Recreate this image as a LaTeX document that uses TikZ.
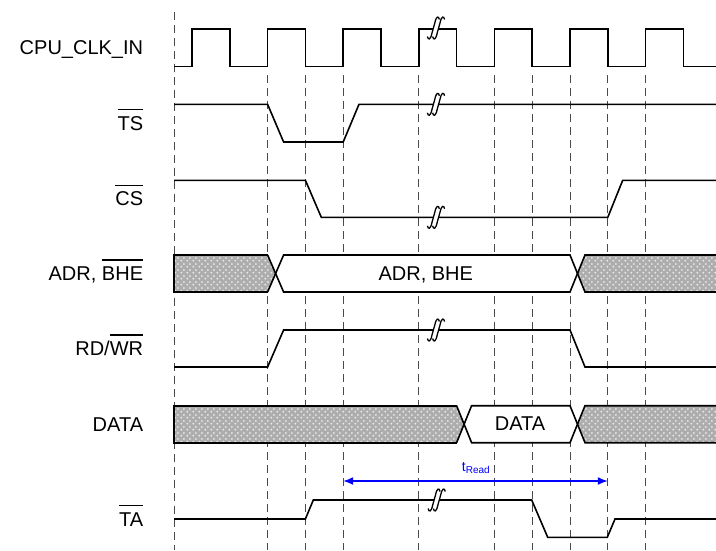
\documentclass[tikz,border=0pt]{standalone}
\usepackage{fontspec}
\setmainfont{Liberation Sans}
\usetikzlibrary{arrows.meta,patterns}
\pgfdeclarepatternformonly{halftone}{\pgfqpoint{0pt}{0pt}}{\pgfqpoint{6pt}{6pt}}{\pgfqpoint{6pt}{6pt}}{%
  \pgfpathcircle{\pgfqpoint{1.5pt}{1.5pt}}{1.2pt}%
  \pgfpathcircle{\pgfqpoint{4.5pt}{4.5pt}}{1.2pt}%
  \pgfusepath{fill}}
\definecolor{shadegray}{HTML}{ADADAD}
\definecolor{dotgray}{HTML}{E8E8E8}
\definecolor{gridgray}{HTML}{4A4A4A}
\newcommand\ovl[1]{{\setbox0\hbox{#1}\rlap{\rule[\dimexpr\ht0+6.3pt\relax]{\wd0}{1.1pt}}\box0}}
\newcommand\brkpiece[2]{%
  \draw[brkline] (#1-6,#2+8.5) .. controls (#1-5.2,#2+12.5) and (#1-2.8,#2+12) .. (#1-1.4,#2+5) -- (#1+1.4,#2-5) .. controls (#1+2.8,#2-12) and (#1+5.2,#2-12.5) .. (#1+6,#2-8.5);
}
\newcommand\brk[2]{%
  \fill[white] (#1-2.6,#2-3) rectangle (#1+2.6,#2+3);
  \brkpiece{#1-2.6}{#2}
  \brkpiece{#1+2.6}{#2}
}
\tikzset{
  sig/.style={line width=1.6pt, line join=miter, black},
  busline/.style={line width=1.6pt, black},
  brkline/.style={line width=1.3pt, black},
  gridline/.style={draw=gridgray, line width=0.8pt, dash pattern=on 8pt off 5pt},
  lbl/.style={anchor=base east, inner sep=0pt, font=\fontsize{20}{24}\selectfont},
  bustxt/.style={anchor=base, inner sep=0pt, font=\fontsize{20}{24}\selectfont},
  shade/.style={fill=shadegray, postaction={pattern=halftone, pattern color=dotgray}},
  tarrow/.style={blue, line width=1.5pt, {Latex[length=10pt,width=8pt]}-{Latex[length=10pt,width=8pt]}}
}
\begin{document}
\begin{tikzpicture}[x=1pt,y=-1pt]
\useasboundingbox (0,0) rectangle (716,550);
\fill[white] (0,0) rectangle (716,550);
% dashed grid
\draw[gridline] (174,12) -- (174,550);
\foreach \x in {267.6,305.4,343.2,418.8,494.4,532.2,570,607.8,645.6}
  \draw[gridline] (\x,75) -- (\x,550);
% labels
\node[lbl] (lclk) at (143.3,54.5) {CPU\_CLK\_IN};
\node[lbl] (lts) at (143.3,130.4) {\ovl{TS}};
\node[lbl] (lcs) at (143.3,205.9) {\ovl{CS}};
\node[lbl] (ladr) at (143.3,280.6) {ADR, \ovl{BHE}};
\node[lbl] (lrd) at (143.3,355.6) {RD/\ovl{WR}};
\node[lbl] (ldata) at (143.3,431.3) {DATA};
\node[lbl] (lta) at (143.3,526.1) {\ovl{TA}};
% clock
\draw[sig] (174,66.3) -- (192,66.3) -- (192,29) -- (229.8,29) -- (229.8,66.3)
  -- (267.6,66.3) -- (267.6,29) -- (305.4,29) -- (305.4,66.3)
  -- (343.2,66.3) -- (343.2,29) -- (381,29) -- (381,66.3)
  -- (418.8,66.3) -- (418.8,29) -- (456.6,29) -- (456.6,66.3)
  -- (494.4,66.3) -- (494.4,29) -- (532.2,29) -- (532.2,66.3)
  -- (570,66.3) -- (570,29) -- (607.8,29) -- (607.8,66.3)
  -- (645.6,66.3) -- (645.6,29) -- (683.4,29) -- (683.4,66.3) -- (716,66.3);
\brk{436}{28}
% TS
\draw[sig] (174,104.3) -- (267.6,104.3) -- (283.6,142) -- (343.2,142) -- (359,104.3) -- (716,104.3);
\brk{436}{104.3}
% CS
\draw[sig] (174,180.3) -- (305.4,180.3) -- (321.3,217.3) -- (607.8,217.3) -- (622.7,180.3) -- (716,180.3);
\brk{436}{217.3}
% ADR bus
\path[shade] (174,255) -- (267.6,255) -- (275.6,273.5) -- (267.6,292) -- (174,292) -- cycle;
\fill[white] (275.6,273.5) -- (283.6,255) -- (570,255) -- (577.5,273.5) -- (570,292) -- (283.6,292) -- cycle;
\path[shade] (577.5,273.5) -- (585,255) -- (716,255) -- (716,292) -- (585,292) -- cycle;
\draw[busline] (267.6,255) -- (174,255) -- (174,292) -- (267.6,292);
\draw[busline] (267.6,255) -- (283.6,292) -- (570,292) -- (585,255) -- (716,255);
\draw[busline] (267.6,292) -- (283.6,255) -- (570,255) -- (585,292) -- (716,292);
\node[bustxt] (tadr) at (425.8,280.2) {ADR, BHE};
% RD/WR
\draw[sig] (174,367) -- (267.6,367) -- (283.6,330) -- (570,330) -- (585,367) -- (716,367);
\brk{436}{330}
% DATA bus
\path[shade] (174,405.7) -- (456.6,405.7) -- (464.1,424.2) -- (456.6,442.7) -- (174,442.7) -- cycle;
\fill[white] (464.1,424.2) -- (471.6,405.7) -- (570,405.7) -- (577.5,424.2) -- (570,442.7) -- (471.6,442.7) -- cycle;
\path[shade] (577.5,424.2) -- (585,405.7) -- (716,405.7) -- (716,442.7) -- (585,442.7) -- cycle;
\draw[busline] (456.6,405.7) -- (174,405.7) -- (174,442.7) -- (456.6,442.7);
\draw[busline] (456.6,405.7) -- (471.6,442.7) -- (570,442.7) -- (585,405.7) -- (716,405.7);
\draw[busline] (456.6,442.7) -- (471.6,405.7) -- (570,405.7) -- (585,442.7) -- (716,442.7);
\node[bustxt] (tdata) at (520,430.6) {DATA};
% tRead
\coordinate (ra) at (343.2,481);
\coordinate (rb) at (607.8,481);
\draw[tarrow] (ra) -- (rb);
\node[anchor=base, inner sep=0pt, text=blue] (tread) at (475.8,471.7)
  {\fontsize{14}{16}\selectfont t\raisebox{-1.5pt}{\fontsize{10}{12}\selectfont Read}};
% TA
\draw[sig] (174,519) -- (305.4,519) -- (313.3,500) -- (531.7,500) -- (547.7,537.3) -- (607.3,537.3) -- (615,519) -- (716,519);
\brk{436.7}{500}
\end{tikzpicture}
\end{document}
